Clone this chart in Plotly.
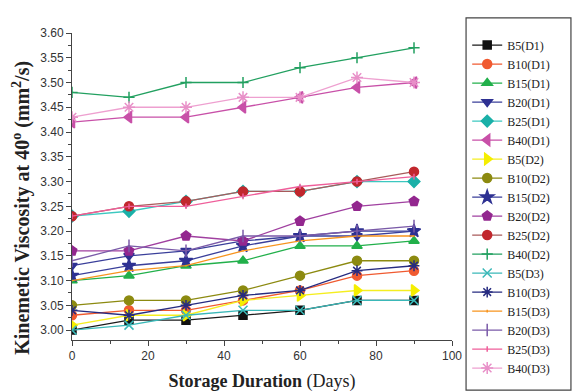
import plotly.graph_objects as go

days = [0, 15, 30, 45, 60, 75, 90]

series_names = [
    "B5(D1)", "B10(D1)", "B15(D1)", "B20(D1)", "B25(D1)", "B40(D1)",
    "B5(D2)", "B10(D2)", "B15(D2)", "B20(D2)", "B25(D2)", "B40(D2)",
    "B5(D3)", "B10(D3)", "B15(D3)", "B20(D3)", "B25(D3)", "B40(D3)",
]

b5_d1 = [3.00, 3.02, 3.02, 3.03, 3.04, 3.06, 3.06]
b10_d1 = [3.03, 3.04, 3.04, 3.06, 3.08, 3.11, 3.12]
b15_d1 = [3.10, 3.11, 3.13, 3.14, 3.17, 3.17, 3.18]
b20_d1 = [3.13, 3.15, 3.16, 3.18, 3.19, 3.19, 3.20]
b25_d1 = [3.23, 3.24, 3.26, 3.28, 3.28, 3.30, 3.30]
b40_d1 = [3.42, 3.43, 3.43, 3.45, 3.47, 3.49, 3.50]
b5_d2 = [3.01, 3.03, 3.03, 3.06, 3.07, 3.08, 3.08]
b10_d2 = [3.05, 3.06, 3.06, 3.08, 3.11, 3.14, 3.14]
b15_d2 = [3.11, 3.13, 3.14, 3.17, 3.19, 3.20, 3.20]
b20_d2 = [3.16, 3.16, 3.19, 3.18, 3.22, 3.25, 3.26]
b25_d2 = [3.23, 3.25, 3.26, 3.28, 3.28, 3.30, 3.32]
b40_d2 = [3.48, 3.47, 3.50, 3.50, 3.53, 3.55, 3.57]
b5_d3 = [3.00, 3.01, 3.03, 3.04, 3.04, 3.06, 3.06]
b10_d3 = [3.04, 3.03, 3.05, 3.07, 3.08, 3.12, 3.13]
b15_d3 = [3.10, 3.12, 3.13, 3.16, 3.18, 3.19, 3.19]
b20_d3 = [3.14, 3.17, 3.16, 3.19, 3.19, 3.20, 3.21]
b25_d3 = [3.23, 3.25, 3.25, 3.27, 3.29, 3.30, 3.31]
b40_d3 = [3.43, 3.45, 3.45, 3.47, 3.47, 3.51, 3.50]

values = [
    b5_d1, b10_d1, b15_d1, b20_d1, b25_d1, b40_d1,
    b5_d2, b10_d2, b15_d2, b20_d2, b25_d2, b40_d2,
    b5_d3, b10_d3, b15_d3, b20_d3, b25_d3, b40_d3,
]

# (line colour, marker colour, symbol, marker size)
styles = [
    ("#1a1a1a", "#111111", "square", 8),
    ("#f05a30", "#f05a30", "circle", 9),
    ("#22b04b", "#22b04b", "triangle-up", 9),
    ("#3a3f9a", "#2e3192", "triangle-down", 9),
    ("#3cc8c0", "#1ab0a8", "diamond", 9),
    ("#c850a8", "#c850a8", "triangle-left", 10),
    ("#f5ee20", "#f5ee00", "triangle-right", 10),
    ("#8c8a10", "#8c8a10", "circle", 9),
    ("#3a3f9a", "#2e3192", "star", 10),
    ("#a040a0", "#93278f", "pentagon", 10),
    ("#a85a5a", "#c1272d", "circle", 9),
    ("#22a060", "#22a060", "cross-thin", 8),
    ("#3ab8b8", "#3ab8b8", "x-thin", 9),
    ("#262b80", "#262b80", "asterisk", 9),
    ("#f7941e", "#f7941e", "line-ns", 1),
    ("#7a5aa8", "#7a5aa8", "line-ns", 9),
    ("#ef5e9a", "#ef5e9a", "line-ns", 4),
    ("#eea0d0", "#e890c8", "asterisk", 10),
]

fig = go.Figure()
for name, ys, (lc, mc, sym, sz) in zip(series_names, values, styles):
    fig.add_trace(go.Scatter(
        x=days, y=ys, name=name, mode="lines+markers",
        line=dict(color=lc, width=1.3),
        marker=dict(symbol=sym, size=sz, color=mc,
                    line=dict(color=mc, width=1.5)),
    ))

tick_font = dict(family="Liberation Sans, Arial, sans-serif", size=12, color="#333333")
serif = "Liberation Serif, Times New Roman, serif"

# frame drawn around the legend entries
fig.add_shape(
    type="rect", xref="paper", yref="paper",
    x0=1.037, x1=1.313, y0=-0.163, y1=1.049,
    line=dict(color="#444444", width=1.2), fillcolor="rgba(0,0,0,0)",
)

# rotated y-axis title
fig.add_annotation(
    text="<b>Kinemetic Viscosity at 40<sup>o</sup> (mm<sup>2</sup>/s)</b>",
    xref="paper", yref="paper", x=-0.132, y=0.43,
    xanchor="center", yanchor="middle", textangle=-90, showarrow=False,
    font=dict(family=serif, size=20, color="#222222"),
)

fig.update_layout(
    width=574, height=392,
    margin=dict(l=72, r=122, t=33, b=52, autoexpand=False),
    paper_bgcolor="white", plot_bgcolor="white",
    showlegend=True,
    legend=dict(
        x=1.04, y=1.008, xanchor="left", yanchor="top",
        borderwidth=0, bgcolor="rgba(0,0,0,0)",
        font=dict(family=serif, size=12, color="#222222"),
        tracegroupgap=0, itemwidth=30, maxheight=1,
    ),
    xaxis=dict(
        range=[0, 100], tickvals=[0, 20, 40, 60, 80, 100],
        automargin=False,
        showgrid=False, zeroline=False, showline=True, linecolor="#444444",
        ticks="outside", ticklen=5, tickcolor="#444444", tickfont=tick_font,
        minor=dict(ticks="outside", ticklen=3, dtick=10, tickcolor="#444444"),
        title=dict(text="<b>Storage Duration</b> (Days)",
                   font=dict(family=serif, size=18, color="#222222"), standoff=20),
    ),
    yaxis=dict(
        range=[2.98, 3.60], tickvals=[3.00 + 0.05 * i for i in range(13)],
        tickformat=".2f", automargin=False,
        showgrid=False, zeroline=False, showline=True, linecolor="#444444",
        ticks="outside", ticklen=5, tickcolor="#444444", tickfont=tick_font,
        minor=dict(ticks="outside", ticklen=3, dtick=0.025, tick0=2.975,
                   tickcolor="#444444"),
    ),
)

fig.write_html("out.html")
